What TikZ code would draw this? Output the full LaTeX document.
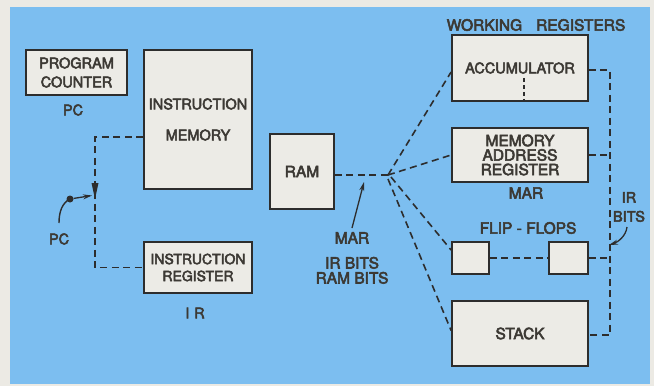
\documentclass[tikz,border=0pt]{standalone}
\usepackage{fontspec}
\setmainfont{TeX Gyre Heros}
\usetikzlibrary{calc,arrows.meta}
\definecolor{bgblue}{RGB}{124,190,240}
\definecolor{paper}{RGB}{236,234,228}
\definecolor{boxfill}{RGB}{236,235,230}
\definecolor{ink}{RGB}{45,45,45}
\definecolor{txt}{RGB}{60,57,52}
\newcommand\hvfont[2]{\fontsize{#1}{#2}\selectfont\font\hvtmp="TeX Gyre Heros:embolden=3.5" at #1pt\hvtmp}
\begin{document}
\begin{tikzpicture}[x=1pt,y=-1pt,
 box/.style={draw=ink,line width=1.8pt,fill=boxfill,text=txt,align=center,inner sep=0pt,font=\hvfont{14.5}{19}},
 lbl/.style={text=txt,align=center,inner sep=0pt,font=\hvfont{15.5}{17}},
 bus/.style={draw=ink,line width=1.6pt,dash pattern=on 7pt off 4.5pt},
 pointer/.style={draw=ink,line width=1.3pt,-{Stealth[length=9pt,width=5pt]}}]
\fill[paper] (0,0) rectangle (654,386);
\fill[bgblue] (10,7) rectangle (650,384);
\useasboundingbox (0,0) rectangle (654,386);

% boxes
\node[box,minimum width=101pt,minimum height=45pt] (pc) at (76.5,72.5) {PROGRAM\\COUNTER};
\node[box,minimum width=108pt,minimum height=139pt] (im) at (198,119.5) {INSTRUCTION\\[12pt]MEMORY};
\node[box,minimum width=108pt,minimum height=51pt,font=\hvfont{14}{17}] (ir) at (198,267.5) {INSTRUCTION\\REGISTER};
\node[box,minimum width=64pt,minimum height=75pt,font=\hvfont{15.5}{19}] (ram) at (302,171.5) {RAM};
\node[box,minimum width=136pt,minimum height=66pt] (acc) at (520,68) {ACCUMULATOR};
\node[box,minimum width=136pt,minimum height=54pt,font=\hvfont{15.5}{14.5}] (mar) at (520,155) {MEMORY\\ADDRESS\\REGISTER};
\node[box,minimum width=37pt,minimum height=32pt] (ffl) at (470.5,258) {};
\node[box,minimum width=39pt,minimum height=32pt] (ffr) at (568.5,258) {};
\node[box,minimum width=136pt,minimum height=65pt,font=\hvfont{15.5}{19}] (stack) at (520,333.5) {STACK};

% labels
\node[lbl,font=\hvfont{14.5}{17}] (pcl) at (73,110) {PC};
\node[lbl,font=\hvfont{14.5}{17}] (irl) at (195,313) {I\,\,R};
\node[lbl] (marl) at (526,193) {MAR};
\node[lbl] (wr) at (536,25) {WORKING\hspace{14pt}REGISTERS};
\node[lbl] (ffll) at (528,228) {FLIP - FLOPS};
\node[lbl,font=\hvfont{14.5}{19}] (irb) at (629,207) {IR\\BITS};
\node[lbl,font=\hvfont{15.5}{15}] (bits) at (352,258) {MAR\\[10pt]IR BITS\\RAM BITS};
\node[lbl,font=\hvfont{14.5}{17}] (pc2) at (59,239) {PC};

% coordinates
\coordinate (j) at (388,175);
\coordinate (bt) at (610,70);
\coordinate (bb) at (610,335);
\coordinate (k) at (95,137);

% connectors
\draw[bus] ($(im.west)+(0,17.5)$) -- (k) -- (k |- ir.west) -- (ir.west);
\fill[ink] (91.5,183) -- (98.5,183) -- (95,199) -- cycle;
\draw[bus] ($(ram.east)+(0,3.5)$) -- (j);
\draw[bus] (j) -- ($(acc.west)+(0,4)$);
\draw[bus] (j) -- (mar.west);
\draw[bus] ($(j)+(3,2)$) -- ($(ffl.west)+(0,-8)$);
\draw[bus] ($(j)+(0,4)$) -- ($(stack.west)+(0,-3)$);
\draw[bus] ($(acc.east)+(0,2)$) -- (bt) -- (bb) -- ($(stack.east)+(0,1.5)$);
\draw[bus] (mar.east) -- (mar.east -| bt);
\draw[bus] (ffr.east) -- (ffr.east -| bt);
\draw[bus] (ffl.east) -- (ffr.west);
\draw[draw=ink,line width=1.2pt,dash pattern=on 4pt off 3pt] ($(acc.south)+(4,-24)$) -- ($(acc.south)+(4,-2)$);

% pointers
\node[circle,fill=ink,inner sep=0pt,minimum size=7pt] (pcdot) at (70,199) {};
\coordinate (pcend) at (92,195.5);
\coordinate (pctail) at (59,223);
\draw[pointer] (pcdot) -- (pcend);
\draw[draw=ink,line width=1.4pt] (pcdot.center) .. controls (62,203) and (59,212) .. (pctail);
\coordinate (ramtail) at (352,228);
\coordinate (ramtip) at (364,182);
\draw[pointer] (ramtail) -- (ramtip);
\coordinate (irtail) at (627,227);
\coordinate (irtip) at (609,245);
\draw[pointer] (irtail) .. controls (626,236) and (618,242) .. (irtip);
\end{tikzpicture}
\end{document}
